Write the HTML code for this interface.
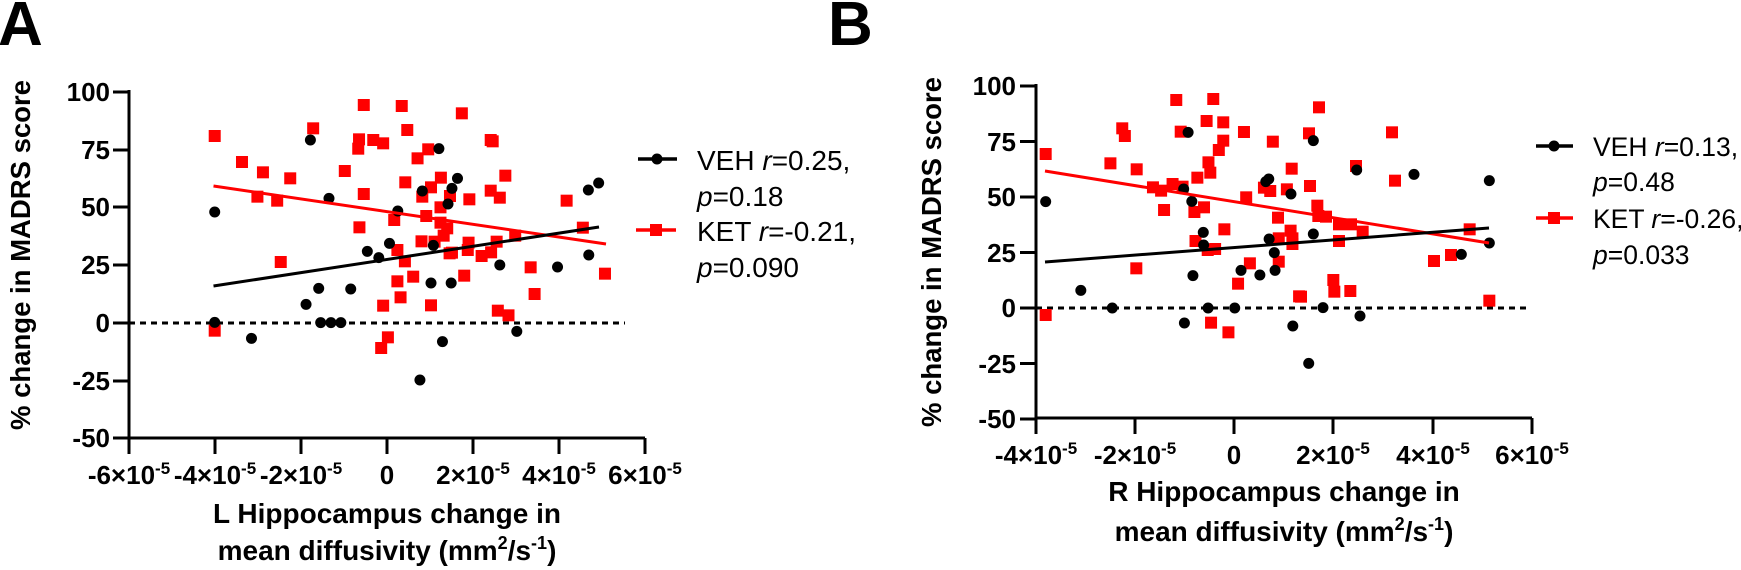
<!DOCTYPE html>
<html><head><meta charset="utf-8"><style>
html,body{margin:0;padding:0;background:#fff;}
svg{display:block;font-family:"Liberation Sans",Arial,sans-serif;}
.t{font-weight:bold;font-size:26px;}
.lg{font-size:28px;}
.lgb{font-size:26.5px;}
</style></head><body>
<svg id="s" width="1741" height="570" viewBox="0 0 1741 570" xmlns="http://www.w3.org/2000/svg">
<text x="-2" y="45" font-size="62" font-weight="bold">A</text>
<text x="828" y="45" font-size="62" font-weight="bold">B</text>
<g stroke="#000" stroke-width="3" fill="none">
<path d="M129,90 V438 H645"/>
<path d="M113,92H129 M113,150H129 M113,207H129 M113,265H129 M113,323H129 M113,381H129 M113,438H129"/>
<path d="M129,438V454 M215,438V454 M301,438V454 M387,438V454 M473,438V454 M559,438V454 M645,438V454"/>
<path d="M129,323H625" stroke-dasharray="6,5"/>
</g>
<g class="t" text-anchor="end">
<text x="110" y="101">100</text><text x="110" y="159">75</text><text x="110" y="216">50</text><text x="110" y="274">25</text><text x="110" y="332">0</text><text x="110" y="390">-25</text><text x="110" y="447">-50</text>
</g>
<g class="t" text-anchor="middle">
<text x="129" y="484">-6×10<tspan font-size="17" dy="-10">-5</tspan></text>
<text x="215" y="484">-4×10<tspan font-size="17" dy="-10">-5</tspan></text>
<text x="301" y="484">-2×10<tspan font-size="17" dy="-10">-5</tspan></text>
<text x="387" y="484">0</text>
<text x="473" y="484">2×10<tspan font-size="17" dy="-10">-5</tspan></text>
<text x="559" y="484">4×10<tspan font-size="17" dy="-10">-5</tspan></text>
<text x="645" y="484">6×10<tspan font-size="17" dy="-10">-5</tspan></text>
<text x="387" y="523" font-size="28">L Hippocampus change in</text>
<text x="387" y="560" font-size="28">mean diffusivity (mm<tspan font-size="18" dy="-11">2</tspan><tspan dy="11">/s</tspan><tspan font-size="18" dy="-11">-1</tspan><tspan dy="11">)</tspan></text>
<text transform="translate(30,255) rotate(-90)" font-size="27.5">% change in MADRS score</text>
</g>
<g stroke="#000" stroke-width="3" fill="none">
<path d="M1036,84 V418 H1532"/>
<path d="M1020,86H1036 M1020,141.5H1036 M1020,197H1036 M1020,252.5H1036 M1020,308H1036 M1020,363.5H1036 M1020,419H1036"/>
<path d="M1036,418V434 M1135,418V434 M1234,418V434 M1333,418V434 M1433,418V434 M1532,418V434"/>
<path d="M1036,308H1530" stroke-dasharray="6,5"/>
</g>
<g class="t" text-anchor="end">
<text x="1016" y="95">100</text><text x="1016" y="151">75</text><text x="1016" y="206">50</text><text x="1016" y="262">25</text><text x="1016" y="317">0</text><text x="1016" y="373">-25</text><text x="1016" y="428">-50</text>
</g>
<g class="t" text-anchor="middle">
<text x="1036" y="464">-4×10<tspan font-size="17" dy="-10">-5</tspan></text>
<text x="1135" y="464">-2×10<tspan font-size="17" dy="-10">-5</tspan></text>
<text x="1234" y="464">0</text>
<text x="1333" y="464">2×10<tspan font-size="17" dy="-10">-5</tspan></text>
<text x="1433" y="464">4×10<tspan font-size="17" dy="-10">-5</tspan></text>
<text x="1532" y="464">6×10<tspan font-size="17" dy="-10">-5</tspan></text>
<text x="1284" y="501" font-size="28">R Hippocampus change in</text>
<text x="1284" y="541" font-size="28">mean diffusivity (mm<tspan font-size="18" dy="-11">2</tspan><tspan dy="11">/s</tspan><tspan font-size="18" dy="-11">-1</tspan><tspan dy="11">)</tspan></text>
<text transform="translate(941,252) rotate(-90)" font-size="27.5">% change in MADRS score</text>
</g>
<g stroke-width="3.5">
<line x1="638" y1="159" x2="677" y2="159" stroke="#000"/><circle cx="657" cy="159" r="5.5"/>
<line x1="636" y1="230" x2="676" y2="230" stroke="#f00"/><rect x="650" y="224" width="12" height="12" fill="#f00"/>
<line x1="1536" y1="146" x2="1573" y2="146" stroke="#000"/><circle cx="1554" cy="146" r="5.5"/>
<line x1="1536" y1="218" x2="1573" y2="218" stroke="#f00"/><rect x="1548" y="212" width="12" height="12" fill="#f00"/>
</g>
<g class="lg">
<text x="697" y="170">VEH <tspan font-style="italic">r</tspan>=0.25,</text>
<text x="697" y="206"><tspan font-style="italic">p</tspan>=0.18</text>
<text x="697" y="241">KET <tspan font-style="italic">r</tspan>=-0.21,</text>
<text x="697" y="277"><tspan font-style="italic">p</tspan>=0.090</text>
</g>
<g class="lgb">
<text x="1593" y="156">VEH <tspan font-style="italic">r</tspan>=0.13,</text>
<text x="1593" y="191"><tspan font-style="italic">p</tspan>=0.48</text>
<text x="1593" y="228">KET <tspan font-style="italic">r</tspan>=-0.26,</text>
<text x="1593" y="264"><tspan font-style="italic">p</tspan>=0.033</text>
</g>
<g id="pts"></g>
<g stroke-width="3">
<line x1="213.5" y1="186" x2="606" y2="244" stroke="#f00"/>
<line x1="213.5" y1="286" x2="599" y2="227" stroke="#000"/>
<line x1="1045" y1="171" x2="1489" y2="243" stroke="#f00"/>
<line x1="1045" y1="262" x2="1489" y2="228" stroke="#000"/>
</g>
</svg>
<script>
var g=document.getElementById('pts'),NS='http://www.w3.org/2000/svg';
function sq(x,y){var r=document.createElementNS(NS,'rect');r.setAttribute('x',x-6);r.setAttribute('y',y-6);r.setAttribute('width',12);r.setAttribute('height',12);r.setAttribute('fill','#f00');g.appendChild(r);}
function ci(x,y){var c=document.createElementNS(NS,'circle');c.setAttribute('cx',x);c.setAttribute('cy',y);c.setAttribute('r',5.5);c.setAttribute('fill','#000');g.appendChild(c);}
var aR=[[543,228],[612,306],[665,337],[651,410],[701,422],[734,355],[710,606],[792,205],[543,812],[872,333],[920,135],[908,238],[906,266],[944,240],[969,250],[920,402],[909,502],[1016,138],[1030,210],[1025,367],[1056,295],[1083,268],[1090,382],[1068,410],[1115,353],[1138,408],[1114,442],[1078,468],[997,480],[1005,570],[1024,604],[1066,544],[1114,488],[1131,505],[1122,527],[1099,545],[1137,580],[1143,578],[1168,160],[1187,418],[1185,548],[1183,570],[1174,647],[1045,650],[1005,664],[1013,712],[969,737],[1090,736],[981,832],[964,864],[1241,240],[1246,244],[1278,347],[1241,392],[1264,413],[1256,545],[1242,577],[1218,588],[1303,527],[1342,622],[1352,702],[1259,752],[1286,766],[1433,422],[1474,503],[1530,641]];
var aB=[[543,456],[543,787],[636,835],[785,240],[832,415],[774,733],[806,685],[811,788],[837,788],[862,788],[887,687],[929,574],[958,593],[985,550],[1006,453],[1068,393],[1110,266],[1157,355],[1143,385],[1133,432],[1096,556],[1090,669],[1141,669],[1062,960],[1119,845],[1264,615],[1307,814],[1410,621],[1488,390],[1514,369],[1489,585]];
aR.forEach(function(p){sq(p[0]/2.529,60+p[1]/3);});
aB.forEach(function(p){ci(p[0]/2.529,60+p[1]/3);});
var bR=[[610,282],[610,765],[785,310],[817,205],[824,228],[856,328],[855,625],[900,382],[922,392],[930,450],[953,372],[963,120],[975,215],[980,380],[1015,543],[1012,456],[1020,353],[1038,442],[1045,183],[1050,307],[1055,338],[1048,570],[1068,567],[1063,117],[1078,270],[1090,187],[1090,242],[1093,508],[1057,788],[1104,817],[1130,671],[1146,216],[1152,412],[1162,610],[1200,383],[1217,393],[1224,245],[1238,473],[1240,535],[1240,605],[1262,388],[1272,512],[1275,326],[1277,535],[1277,552],[1295,709]];
var bB=[[610,425],[705,691],[790,744],[985,789],[995,217],[983,387],[1005,424],[1008,647],[1036,517],[1037,555],[1049,744],[1121,744],[1138,631],[1189,645],[1205,365],[1213,357],[1214,537],[1228,578],[1230,631],[1273,402],[1278,798],[1321,910]];
bR.forEach(function(p){sq(820+p[0]/2.703,60+p[1]/3);});
bB.forEach(function(p){ci(820+p[0]/2.703,60+p[1]/3);});
var cR=[[57,142],[27,220],[276,217],[168,318],[285,362],[30,378],[52,437],[55,468],[78,470],[117,493],[153,493],[188,515],[117,543],[509,508],[402,603],[453,585],[100,660],[103,695],[151,693],[568,722],[3,710]];
var cB=[[40,242],[170,330],[342,343],[568,362],[40,522],[568,549],[484,583],[69,743],[180,768]];
cR.forEach(function(p){sq(1300+p[0]/3,60+p[1]/3);});
cB.forEach(function(p){ci(1300+p[0]/3,60+p[1]/3);});
</script>
</body></html>
